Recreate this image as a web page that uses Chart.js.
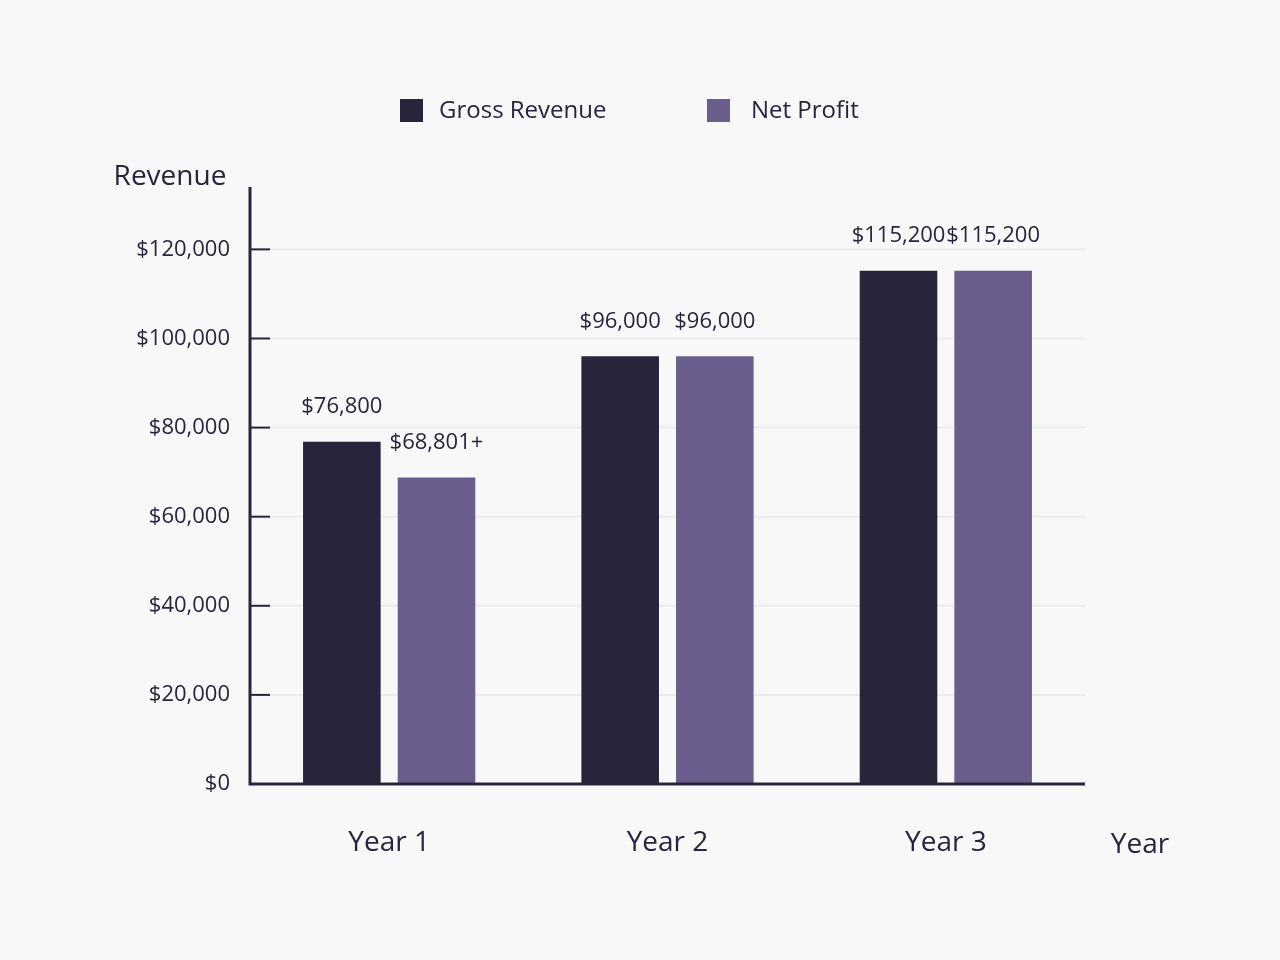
<!DOCTYPE html>
<html>
<head>
<meta charset="utf-8">
<script src="https://cdn.jsdelivr.net/npm/chart.js@4/dist/chart.umd.min.js"></script>
<style>
  html, body { margin: 0; padding: 0; background: #f8f8f8; }
  #wrap { width: 1280px; height: 960px; }
</style>
</head>
<body>
<div id="wrap"><canvas id="c" width="1280" height="960"></canvas></div>
<script>
const years = ['Year 1', 'Year 2', 'Year 3'];
const grossRevenue = [76800, 96000, 115200];
const netProfit = [68801, 96000, 115200];
const valueLabels = [['$76,800', '$96,000', '$115,200'], ['$68,801+', '$96,000', '$115,200']];
const yTicks = [0, 20000, 40000, 60000, 80000, 100000, 120000];

const dark = '#29243b';
const purple = '#6a5e8e';
const fontFamily = "'Open Sans', 'Noto Sans', sans-serif";

// Custom axis decoration, legend, titles and value labels
const decor = {
  id: 'decor',
  beforeDatasetsDraw(chart) {
    const { ctx, chartArea: a, scales: { y } } = chart;
    ctx.save();
    y.ticks.forEach(t => {
      const py = y.getPixelForValue(t.value);
      if (t.value > 0) {
        ctx.strokeStyle = '#ececec';
        ctx.lineWidth = 2;
        ctx.beginPath(); ctx.moveTo(a.left + 20, py); ctx.lineTo(a.right, py); ctx.stroke();
      }
      ctx.strokeStyle = dark;
      ctx.lineWidth = 2;
      ctx.beginPath(); ctx.moveTo(a.left, py); ctx.lineTo(a.left + 20, py); ctx.stroke();
    });
    ctx.restore();
  },
  afterDatasetsDraw(chart) {
    const { ctx, chartArea: a } = chart;
    ctx.save();
    // axis lines
    ctx.strokeStyle = dark;
    ctx.lineWidth = 3;
    ctx.beginPath();
    ctx.moveTo(a.left, a.top); ctx.lineTo(a.left, a.bottom); ctx.lineTo(a.right, a.bottom);
    ctx.stroke();
    // value labels
    ctx.fillStyle = dark;
    ctx.font = '22px ' + fontFamily;
    ctx.textAlign = 'center';
    ctx.textBaseline = 'bottom';
    chart.data.datasets.forEach((ds, di) => {
      chart.getDatasetMeta(di).data.forEach((bar, i) => {
        ctx.fillText(valueLabels[di][i], bar.x, bar.y - 24);
      });
    });
    // titles
    ctx.font = '28px ' + fontFamily;
    ctx.textBaseline = 'middle';
    ctx.fillText('Revenue', 170, 177);
    ctx.fillText('Year', 1140, 845);
    // legend
    ctx.font = '24px ' + fontFamily;
    ctx.textAlign = 'left';
    ctx.fillStyle = dark;
    ctx.fillRect(400, 99, 23, 23);
    ctx.fillText('Gross Revenue', 439, 111);
    ctx.fillStyle = purple;
    ctx.fillRect(707, 99, 23, 23);
    ctx.fillStyle = dark;
    ctx.fillText('Net Profit', 751, 111);
    ctx.restore();
  }
};

new Chart(document.getElementById('c'), {
  type: 'bar',
  data: {
    labels: years,
    datasets: [
      { label: 'Gross Revenue', data: grossRevenue, backgroundColor: dark },
      { label: 'Net Profit', data: netProfit, backgroundColor: purple }
    ]
  },
  options: {
    responsive: false,
    animation: false,
    layout: { padding: { top: 187, right: 195, left: 0, bottom: 0 } },
    datasets: { bar: { categoryPercentage: 0.68, barPercentage: 0.82 } },
    plugins: { legend: { display: false }, tooltip: { enabled: false } },
    scales: {
      x: {
        grid: { display: false, drawTicks: false },
        border: { display: false },
        ticks: { color: dark, padding: 42, font: { size: 28, family: fontFamily } },
        afterFit: s => { s.height = 176; }
      },
      y: {
        min: 0,
        max: 134000,
        grid: { display: false, drawTicks: false },
        border: { display: false },
        afterBuildTicks: s => { s.ticks = yTicks.map(v => ({ value: v })); },
        ticks: {
          color: dark,
          padding: 20,
          font: { size: 22, family: fontFamily },
          callback: v => '$' + v.toLocaleString('en-US')
        },
        afterFit: s => { s.width = 250; }
      }
    }
  },
  plugins: [decor]
});
</script>
</body>
</html>
